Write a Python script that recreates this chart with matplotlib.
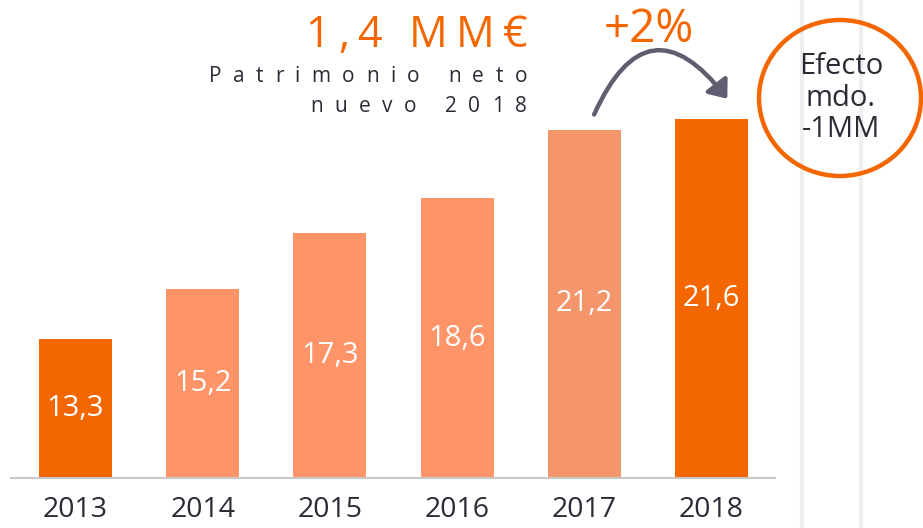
import numpy as np
import matplotlib
matplotlib.use('Agg')
import matplotlib.pyplot as plt
from matplotlib.patches import Ellipse, FancyArrowPatch
from matplotlib.font_manager import FontProperties

# DATA
years = ['2013', '2014', '2015', '2016', '2017', '2018']
values = [13.3, 15.2, 17.3, 18.6, 21.2, 21.6]
labels = ['13,3', '15,2', '17,3', '18,6', '21,2', '21,6']
bar_colors = ['#F46600', '#FF9468', '#FF9468', '#FF9468', '#F4956B', '#F46600']

orange = '#F46600'
dark = '#2B2B36'
plt.rcParams['font.family'] = ['Open Sans', 'DejaVu Sans']

W, H = 923, 528
fig = plt.figure(figsize=(W / 100, H / 100), dpi=100)

# MAIN BAR AXES (baseline at y=478 px, value 8.05)
px_per_unit = 26.5
y0 = 8.05
ax = fig.add_axes([11 / W, 50 / H, 764 / W, 478 / H])
x = np.arange(len(years))
ax.bar(x, values, width=0.574, color=bar_colors, bottom=0)
ax.set_xlim(-0.507, 5.5)
ax.set_ylim(y0, y0 + 478 / px_per_unit)
for xi, v, lab in zip(x, values, labels):
    ax.text(xi, (y0 + v) / 2, lab, ha='center', va='center', color='white', fontsize=21)
ax.set_xticks(x, years)
ax.tick_params(axis='x', length=0, pad=13, labelsize=20.5, labelcolor=dark)
ax.set_yticks([])
for s in ['top', 'left', 'right']:
    ax.spines[s].set_visible(False)
ax.spines['bottom'].set_color('#C8C8C8')
ax.spines['bottom'].set_linewidth(1.5)
ax.patch.set_alpha(0)

# OVERLAY (pixel coordinates) for annotations
ov = fig.add_axes([0, 0, 1, 1], zorder=-1)
ov.set_xlim(0, W)
ov.set_ylim(H, 0)
ov.axis('off')

# faint vertical band lines on the right
for xl in [802, 861]:
    ov.axvline(xl, color='#EFEFEF', lw=3)

ov2 = fig.add_axes([0, 0, 1, 1], zorder=5)
ov2.set_xlim(0, W)
ov2.set_ylim(H, 0)
ov2.axis('off')

renderer = fig.canvas.get_renderer()


def tracked_text(x_right, y, s, size, tracking, color):
    fp = FontProperties(family=['Open Sans', 'DejaVu Sans'], size=size)
    widths = [renderer.get_text_width_height_descent(c, fp, ismath=False)[0] for c in s]
    total = sum(widths) + tracking * (len(s) - 1)
    xc = x_right - total
    for c, w in zip(s, widths):
        ov2.text(xc, y, c, fontproperties=fp, color=color, ha='left', va='center')
        xc += w + tracking


tracked_text(527, 36, '1,4 MM€', 31, 8, orange)
tracked_text(527, 77, 'Patrimonio neto', 15, 11.5, dark)
tracked_text(527, 107, 'nuevo 2018', 15, 11.5, dark)

ov2.text(649, 30, '+2%', color=orange, fontsize=33, ha='center', va='center')

arrow = FancyArrowPatch((593, 117), (729, 101), connectionstyle='arc3,rad=-0.85',
                        arrowstyle='-|>,head_length=0.5,head_width=0.4',
                        mutation_scale=20, color='#5E5E70', lw=3.2)
ov2.add_patch(arrow)

circle = Ellipse((840, 98), 162, 156, fill=False, edgecolor=orange, lw=3.2)
ov2.add_patch(circle)
ov2.text(841, 98, 'Efecto\nmdo.\n-1MM', ha='center', va='center', color=dark,
         fontsize=21, linespacing=1.1)

fig.savefig('out.png', dpi=100)
